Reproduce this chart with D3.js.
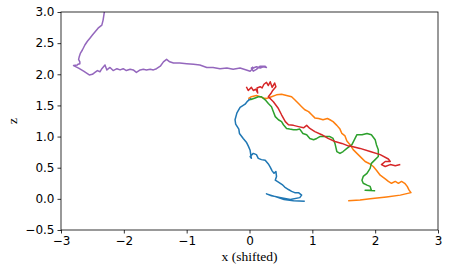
<!DOCTYPE html>
<html>
<head>
<meta charset="utf-8">
<script src="https://cdn.jsdelivr.net/npm/d3@7"></script>
<style>
  body { margin: 0; background: #fff; }
  svg { display: block; }
  .tick text { font-family: "DejaVu Sans", sans-serif; font-size: 12px; fill: #000; }
</style>
</head>
<body>
<svg id="chart" width="449" height="273"></svg>
<script>
// trajectories as [x (shifted), z] pairs
const blue = [[-0.02,1.59],[0.02,1.61],[-0.03,1.57],[-0.07,1.52],[-0.15,1.47],[-0.20,1.38],[-0.23,1.27],[-0.22,1.20],
  [-0.17,1.12],[-0.16,1.05],[-0.10,0.97],[-0.05,0.91],[-0.02,0.85],[0.01,0.78],[0.02,0.71],[0.03,0.65],[0.01,0.68],
  [0.06,0.73],[0.11,0.71],[0.14,0.65],[0.19,0.63],[0.25,0.62],[0.30,0.56],[0.33,0.51],[0.36,0.45],[0.39,0.41],
  [0.42,0.44],[0.43,0.36],[0.41,0.30],[0.46,0.27],[0.52,0.23],[0.56,0.19],[0.62,0.15],[0.67,0.12],[0.72,0.10],
  [0.78,0.10],[0.83,0.06],[0.80,0.02],[0.65,-0.01],[0.50,0.02],[0.35,0.05],[0.27,0.08],[0.40,0.04],[0.55,-0.01],
  [0.70,-0.03],[0.88,-0.04]];

const orange = [[-0.02,1.61],[0.03,1.64],[0.11,1.66],[0.17,1.64],[0.22,1.62],[0.27,1.61],[0.35,1.64],[0.43,1.67],
  [0.51,1.68],[0.59,1.66],[0.67,1.64],[0.72,1.59],[0.78,1.53],[0.83,1.48],[0.88,1.43],[0.94,1.40],[0.99,1.35],
  [1.04,1.30],[1.10,1.29],[1.17,1.27],[1.24,1.29],[1.28,1.27],[1.33,1.24],[1.39,1.18],[1.44,1.12],[1.47,1.05],
  [1.52,1.01],[1.55,0.93],[1.60,0.87],[1.65,0.79],[1.73,0.71],[1.79,0.65],[1.84,0.60],[1.92,0.56],[1.97,0.52],
  [2.02,0.46],[2.08,0.38],[2.16,0.32],[2.21,0.28],[2.26,0.25],[2.32,0.28],[2.37,0.25],[2.42,0.28],[2.47,0.25],
  [2.51,0.20],[2.54,0.14],[2.57,0.10],[2.40,0.06],[2.18,0.03],[1.92,0.00],[1.76,-0.02],[1.57,-0.03]];

const green = [[0.01,1.59],[0.09,1.62],[0.14,1.64],[0.19,1.64],[0.25,1.59],[0.30,1.53],[0.35,1.48],[0.38,1.40],
  [0.41,1.32],[0.46,1.27],[0.51,1.24],[0.54,1.19],[0.59,1.13],[0.64,1.12],[0.70,1.11],[0.75,1.11],[0.80,1.12],
  [0.85,1.05],[0.91,1.03],[0.96,0.97],[1.02,0.95],[1.07,0.97],[1.12,1.00],[1.20,1.00],[1.28,1.00],[1.33,0.97],
  [1.36,0.89],[1.39,0.76],[1.44,0.73],[1.49,0.76],[1.55,0.81],[1.63,0.87],[1.68,0.97],[1.71,1.03],[1.79,1.03],
  [1.87,1.05],[1.94,1.03],[2.00,0.95],[2.02,0.87],[2.05,0.79],[2.05,0.68],[2.00,0.63],[1.94,0.57],[1.92,0.49],
  [1.87,0.41],[1.81,0.36],[1.79,0.30],[1.81,0.25],[1.87,0.22],[1.92,0.20],[1.94,0.14],[1.84,0.14],[2.00,0.13]];

const red = [[-0.05,1.80],[-0.02,1.74],[0.03,1.79],[0.06,1.74],[0.10,1.76],[0.13,1.70],[0.12,1.78],[0.17,1.80],
  [0.20,1.78],[0.23,1.84],[0.27,1.87],[0.30,1.82],[0.33,1.88],[0.36,1.79],[0.40,1.86],[0.42,1.80],[0.37,1.74],
  [0.34,1.69],[0.30,1.64],[0.38,1.56],[0.46,1.45],[0.51,1.35],[0.57,1.24],[0.62,1.19],[0.70,1.18],[0.78,1.16],
  [0.86,1.14],[0.91,1.18],[0.96,1.13],[1.04,1.08],[1.15,1.03],[1.25,0.97],[1.36,0.92],[1.47,0.89],[1.57,0.85],
  [1.60,0.85],[1.76,0.81],[1.92,0.76],[2.08,0.71],[2.21,0.64],[2.24,0.60],[2.16,0.60],[2.10,0.55],[2.16,0.52],
  [2.24,0.55],[2.32,0.53],[2.40,0.55]];

const purple = [[-2.31,3.05],[-2.31,3.00],[-2.33,2.87],[-2.35,2.79],[-2.41,2.74],[-2.46,2.68],[-2.50,2.63],
  [-2.54,2.58],[-2.58,2.53],[-2.62,2.47],[-2.66,2.39],[-2.69,2.34],[-2.71,2.28],[-2.72,2.24],[-2.70,2.20],
  [-2.70,2.17],[-2.73,2.16],[-2.74,2.15],[-2.80,2.14],[-2.72,2.10],[-2.64,2.05],[-2.58,2.01],[-2.55,1.99],
  [-2.50,2.00],[-2.46,2.03],[-2.42,2.06],[-2.38,2.04],[-2.35,2.09],[-2.30,2.15],[-2.27,2.07],[-2.22,2.11],
  [-2.17,2.06],[-2.11,2.09],[-2.06,2.07],[-2.01,2.09],[-1.96,2.06],[-1.90,2.08],[-1.85,2.07],[-1.80,2.03],
  [-1.74,2.07],[-1.69,2.08],[-1.64,2.07],[-1.58,2.08],[-1.53,2.07],[-1.48,2.09],[-1.42,2.13],[-1.37,2.20],
  [-1.32,2.24],[-1.27,2.20],[-1.21,2.18],[-1.11,2.18],[-1.00,2.17],[-0.89,2.16],[-0.79,2.15],[-0.68,2.11],
  [-0.58,2.11],[-0.47,2.09],[-0.36,2.10],[-0.26,2.08],[-0.15,2.10],[-0.05,2.07],[0.01,2.05],[0.06,2.10],
  [0.11,2.12],[0.17,2.10],[0.22,2.12],[0.27,2.11],[0.25,2.13],[0.17,2.13],[0.11,2.08],[0.06,2.05],[0.03,2.10],
  [0.06,2.12]];

const series = [
  { name: "blue", points: blue, color: "#1f77b4" },
  { name: "orange", points: orange, color: "#ff7f0e" },
  { name: "green", points: green, color: "#2ca02c" },
  { name: "red", points: red, color: "#d62728" },
  { name: "purple", points: purple, color: "#9467bd" },
];

const xTicks = [-3, -2, -1, 0, 1, 2, 3];
const zTicks = [-0.5, 0, 0.5, 1, 1.5, 2, 2.5, 3];

const svg = d3.select("#chart");
const margin = { top: 12, right: 11, bottom: 43, left: 61 };
const width = +svg.attr("width") - margin.left - margin.right;
const height = +svg.attr("height") - margin.top - margin.bottom;

const x = d3.scaleLinear().domain([-3, 3]).range([0, width]);
const y = d3.scaleLinear().domain([-0.5, 3]).range([height, 0]);

const g = svg.append("g").attr("transform", `translate(${margin.left},${margin.top})`);

g.append("clipPath").attr("id", "clip")
  .append("rect").attr("width", width).attr("height", height);

const line = d3.line().x((d) => x(d[0])).y((d) => y(d[1]));

const lines = g.append("g").attr("clip-path", "url(#clip)");
lines.selectAll("path")
  .data(series)
  .join("path")
  .attr("fill", "none")
  .attr("stroke", (d) => d.color)
  .attr("stroke-width", 1.5)
  .attr("stroke-linejoin", "round")
  .attr("d", (d) => line(d.points));

// frame
g.append("rect")
  .attr("width", width).attr("height", height)
  .attr("fill", "none").attr("stroke", "#000").attr("stroke-width", 0.8);

const minus = (v) => String(v).replace("-", "\u2212");

const xAxis = g.append("g")
  .attr("transform", `translate(0,${height})`)
  .call(d3.axisBottom(x).tickValues(xTicks).tickSize(3.5).tickPadding(3).tickFormat((d) => minus(d)));

const yAxis = g.append("g")
  .call(d3.axisLeft(y).tickValues(zTicks).tickSize(3.5).tickPadding(3).tickFormat((d) => minus(d3.format(".1f")(d))));

[xAxis, yAxis].forEach((a) => {
  a.select(".domain").remove();
  a.selectAll(".tick line").attr("stroke", "#000").attr("stroke-width", 0.8);
});

svg.append("text")
  .attr("x", margin.left + width / 2)
  .attr("y", 261)
  .attr("text-anchor", "middle")
  .style("font-family", "'Liberation Serif', serif")
  .style("font-size", "13.5px")
  .text("x (shifted)");

svg.append("text")
  .attr("transform", `translate(17,${margin.top + height / 2}) rotate(-90)`)
  .attr("text-anchor", "middle")
  .style("font-family", "'Liberation Serif', serif")
  .style("font-size", "13.5px")
  .text("z");
</script>
</body>
</html>
